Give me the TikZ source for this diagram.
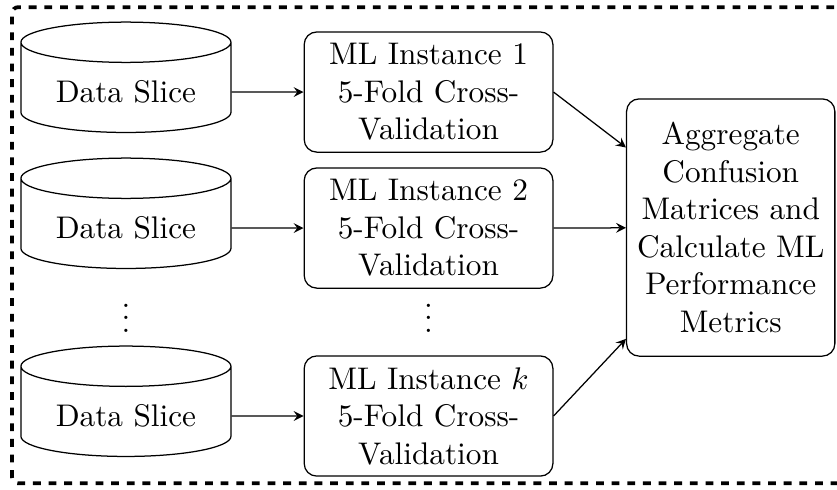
\documentclass[tikz,border=0pt]{standalone}
\usepackage{amsmath}
\usepackage{tikz}
\usetikzlibrary{shapes.geometric,arrows,positioning}

\begin{document}
\begin{tikzpicture}[
    slice/.style={cylinder, shape border rotate=90, draw, aspect=0.25, minimum width=2.36cm, minimum height=1.24cm},
    mlbox/.style={rectangle, rounded corners, draw, text width=2.56cm, align=center, minimum height=1.35cm},
    aggbox/.style={rectangle, rounded corners, draw, text width=2.2cm, inner xsep=1pt, align=center, minimum width=2.34cm, minimum height=2.89cm},
    arrow/.style={->, >=stealth},
]
    \useasboundingbox (0,0) rectangle (9.404,-5.494);
    % dashed frame round the whole process (its right side lies off the page)
    \draw[very thick, dash pattern=on 2.5pt off 2.5pt, rounded corners=2pt] (9.9,-0.08) -- (0.135,-0.08) -- (0.135,-5.43) -- (9.9,-5.43);

    \node[slice] (s1) at (1.415,-1.034) {Data Slice};
    \node[slice] (s2) at (1.415,-2.562) {Data Slice};
    \node (sdots) at (1.415,-3.47) {$\vdots$};
    \node[slice] (sk) at (1.415,-4.674) {Data Slice};

    \node[mlbox] (m1) at (4.815,-1.034) {ML Instance 1\\5-Fold Cross-\\Validation};
    \node[mlbox] (m2) at (4.815,-2.562) {ML Instance 2\\5-Fold Cross-\\Validation};
    \node (mdots) at (4.815,-3.47) {$\vdots$};
    \node[mlbox] (mk) at (4.815,-4.674) {ML Instance $k$\\5-Fold Cross-\\Validation};

    \node[aggbox] (agg) at (8.21,-2.556) {Aggregate\\Confusion\\Matrices and\\Calculate ML\\Performance\\Metrics};

    \draw[arrow] (s1.east) -- (m1.west);
    \draw[arrow] (s2.east) -- (m2.west);
    \draw[arrow] (sk.east) -- (mk.west);
    \draw[arrow] (m1.east) -- (agg);
    \draw[arrow] (m2.east) -- (agg);
    \draw[arrow] (mk.east) -- (agg);
\end{tikzpicture}
\end{document}
